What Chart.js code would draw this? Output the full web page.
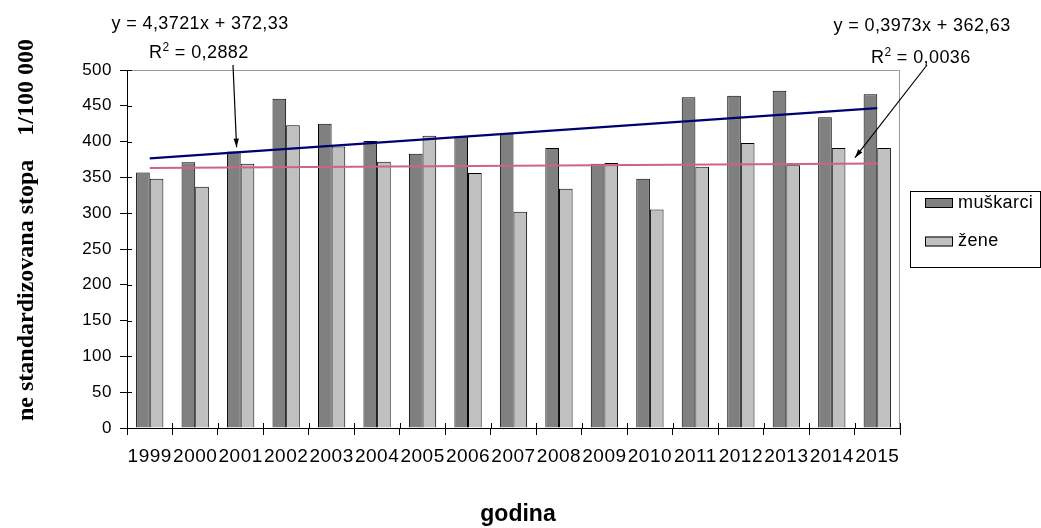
<!DOCTYPE html>
<html>
<head>
<meta charset="utf-8">
<script src="https://cdn.jsdelivr.net/npm/chart.js@4.4.1/dist/chart.umd.min.js"></script>
<style>
  body { margin: 0; background: #fff; }
  #wrap { width: 1041px; height: 528px; }
</style>
</head>
<body>
<div id="wrap"><canvas id="myChart" width="1041" height="528"></canvas></div>
<script>
const years = ['1999', '2000', '2001', '2002', '2003', '2004', '2005', '2006', '2007',
  '2008', '2009', '2010', '2011', '2012', '2013', '2014', '2015'];
const muskarci = [357, 371, 386, 460, 425, 401, 383, 407, 412, 391, 369, 348, 462, 464, 471, 434, 466];
const zene = [348, 337, 369, 423, 393, 372, 408, 356, 302, 334, 370, 305, 365, 398, 367, 391, 391];
// linear trend, value at first and last year
const trendMuskarci = [376.70, 446.66];
const trendZene = [363.03, 369.38];
const trendText = [
  { eq: 'y = 4,3721x + 372,33', r2: '0,2882' },
  { eq: 'y = 0,3973x + 362,63', r2: '0,0036' },
];
const yTicks = [0, 50, 100, 150, 200, 250, 300, 350, 400, 450, 500];

const endsOnly = (pair) => years.map((y, i) => (i === 0 ? pair[0] : i === years.length - 1 ? pair[1] : null));

Chart.defaults.font.family = '"Liberation Sans", Arial, sans-serif';
Chart.defaults.color = '#000';

const drawArrow = (ctx, x1, y1, x2, y2) => {
  ctx.beginPath();
  ctx.moveTo(x1, y1);
  ctx.lineTo(x2, y2);
  ctx.stroke();
  const a = Math.atan2(y2 - y1, x2 - x1);
  ctx.beginPath();
  ctx.moveTo(x2, y2);
  ctx.lineTo(x2 - 9 * Math.cos(a - 0.3), y2 - 9 * Math.sin(a - 0.3));
  ctx.lineTo(x2 - 9 * Math.cos(a + 0.3), y2 - 9 * Math.sin(a + 0.3));
  ctx.closePath();
  ctx.fill();
};

const drawR2 = (ctx, x, y, r2) => {
  ctx.font = '18px "Liberation Sans", Arial';
  ctx.textAlign = 'left';
  ctx.fillText('R', x, y);
  const w = ctx.measureText('R').width;
  ctx.font = '12px "Liberation Sans", Arial';
  ctx.fillText('2', x + w, y - 7);
  const w2 = ctx.measureText('2').width;
  ctx.font = '18px "Liberation Sans", Arial';
  ctx.fillText(' = ' + r2, x + w + w2, y);
};

const extras = {
  id: 'extras',
  beforeDraw(chart) {
    chart.ctx.letterSpacing = '0.5px';
  },
  afterDraw(chart) {
    const { ctx, chartArea: a, scales } = chart;
    const xs = scales.x, ys = scales.y;
    ctx.save();
    // plot area border (top and right)
    ctx.strokeStyle = '#999';
    ctx.lineWidth = 1;
    ctx.beginPath();
    ctx.moveTo(a.left, a.top + 0.5);
    ctx.lineTo(a.right - 0.5, a.top + 0.5);
    ctx.lineTo(a.right - 0.5, a.bottom);
    ctx.stroke();
    // inner part of the cross tick marks
    ctx.strokeStyle = '#000';
    ctx.beginPath();
    yTicks.forEach((v) => {
      const p = Math.round(ys.getPixelForValue(v)) + 0.5;
      ctx.moveTo(a.left, p);
      ctx.lineTo(a.left + 5, p);
    });
    for (let i = 0; i <= years.length; i++) {
      const p = Math.round(xs.getPixelForValue(i - 0.5)) + 0.5;
      ctx.moveTo(p, a.bottom);
      ctx.lineTo(p, a.bottom - 5);
    }
    ctx.stroke();

    // trend equations
    ctx.letterSpacing = '0.4px';
    ctx.fillStyle = '#000';
    ctx.textBaseline = 'alphabetic';
    ctx.font = '18px "Liberation Sans", Arial';
    ctx.textAlign = 'center';
    ctx.fillText(trendText[0].eq, 200, 29);
    ctx.fillText(trendText[1].eq, 922, 31);
    drawR2(ctx, 149, 58, trendText[0].r2);
    drawR2(ctx, 871, 63, trendText[1].r2);

    // arrows to the trend lines
    const trendAt = (pair, idx) => pair[0] + (pair[1] - pair[0]) * idx / (years.length - 1);
    ctx.strokeStyle = '#000';
    ctx.lineWidth = 1.2;
    const i1 = 1.91, i2 = 15.51;
    drawArrow(ctx, 233, 65, xs.getPixelForValue(i1), ys.getPixelForValue(trendAt(trendMuskarci, i1)) - 5);
    drawArrow(ctx, 927, 65, xs.getPixelForValue(i2), ys.getPixelForValue(trendAt(trendZene, i2)) - 6);

    // legend
    ctx.lineWidth = 1;
    ctx.strokeRect(910.5, 191.5, 130, 76);
    const items = chart.data.datasets.filter((d) => d.type === 'bar');
    items.forEach((d, i) => {
      const cy = 203 + i * 38.5;
      ctx.fillStyle = d.backgroundColor;
      ctx.fillRect(925, cy - 5, 28, 10);
      ctx.strokeStyle = '#000';
      ctx.strokeRect(925.5, cy - 4.5, 27, 9);
      ctx.fillStyle = '#000';
      ctx.font = '18px "Liberation Sans", Arial';
      ctx.textAlign = 'left';
      ctx.textBaseline = 'middle';
      ctx.fillText(d.label, 958, cy);
    });

    // axis titles
    ctx.letterSpacing = '0px';
    ctx.textBaseline = 'alphabetic';
    ctx.textAlign = 'center';
    ctx.font = 'bold 23px "Liberation Sans", Arial';
    ctx.fillText('godina', 518, 521);
    ctx.translate(33, 230);
    ctx.rotate(-Math.PI / 2);
    ctx.font = 'bold 24px "Liberation Serif", "Times New Roman", serif';
    ctx.fillText('ne standardizovana stopa    1/100 000', 0, 0);
    ctx.restore();
  },
};

new Chart(document.getElementById('myChart').getContext('2d'), {
  data: {
    labels: years,
    datasets: [
      {
        type: 'line',
        label: 'trend muškarci',
        data: endsOnly(trendMuskarci),
        borderColor: '#000070',
        borderWidth: 2.2,
        pointRadius: 0,
        spanGaps: true,
        order: 1,
      },
      {
        type: 'line',
        label: 'trend žene',
        data: endsOnly(trendZene),
        borderColor: '#d0608f',
        borderWidth: 2,
        pointRadius: 0,
        spanGaps: true,
        order: 1,
      },
      {
        type: 'bar',
        label: 'muškarci',
        data: muskarci,
        backgroundColor: '#808080',
        borderColor: '#000',
        borderWidth: 1,
        categoryPercentage: 0.6,
        barPercentage: 1.0,
        order: 2,
      },
      {
        type: 'bar',
        label: 'žene',
        data: zene,
        backgroundColor: '#c0c0c0',
        borderColor: '#000',
        borderWidth: 1,
        categoryPercentage: 0.6,
        barPercentage: 1.0,
        order: 2,
      },
    ],
  },
  options: {
    responsive: false,
    animation: false,
    layout: { padding: { top: 70, right: 141, bottom: 0, left: 0 } },
    plugins: { legend: { display: false }, tooltip: { enabled: false } },
    scales: {
      x: {
        offset: true,
        afterFit: (s) => { s.height = 100; },
        grid: { offset: true, drawOnChartArea: false, color: '#000', tickLength: 7 },
        border: { color: '#000', width: 1 },
        ticks: { autoSkip: false, maxRotation: 0, minRotation: 0, padding: 10, font: { size: 19 } },
      },
      y: {
        min: 0,
        max: 500,
        afterFit: (s) => { s.width = 127; },
        grid: { drawOnChartArea: false, color: '#000', tickLength: 7 },
        border: { color: '#000', width: 1 },
        ticks: { stepSize: 50, padding: 8, font: { size: 17 } },
      },
    },
  },
  plugins: [extras],
});
</script>
</body>
</html>
